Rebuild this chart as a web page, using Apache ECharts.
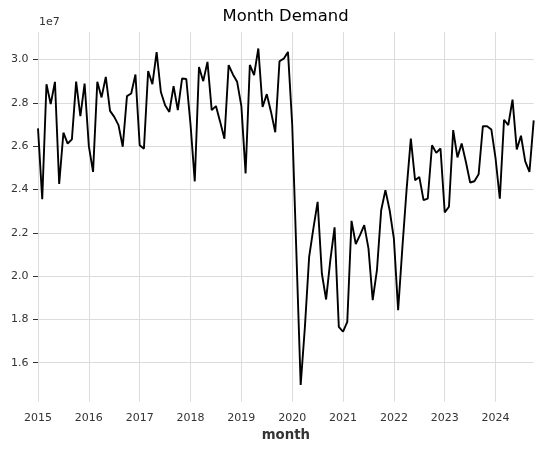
<!DOCTYPE html>
<html>
<head>
<meta charset="utf-8">
<script src="https://cdn.jsdelivr.net/npm/echarts@6/dist/echarts.min.js"></script>
<style>
html,body{margin:0;padding:0;background:#fff;}
#chart{width:544px;height:454px;}
</style>
</head>
<body>
<div id="chart"></div>
<script>
// Monthly demand, 2015-01 .. 2024-10
var startYear = 2015;
var demand = [
  26820000, 23550000, 28860000, 27940000, 28970000, 24250000, 26620000, 26120000, 26310000, 28980000, 27380000, 28890000,
  26000000, 24810000, 28970000, 28250000, 29200000, 27630000, 27350000, 26970000, 25970000, 28310000, 28430000, 29310000,
  26040000, 25880000, 29470000, 28860000, 30340000, 28500000, 27890000, 27580000, 28770000, 27660000, 29120000, 29100000,
  27000000, 24370000, 29650000, 29000000, 29890000, 27660000, 27850000, 27120000, 26340000, 29740000, 29310000, 28970000,
  27850000, 24740000, 29750000, 29280000, 30510000, 27810000, 28400000, 27580000, 26640000, 29920000, 30040000, 30350000,
  27000000, 21000000, 14970000, 17660000, 20890000, 22200000, 23430000, 20120000, 18920000, 20740000, 22250000, 17660000,
  17430000, 17890000, 22550000, 21480000, 21890000, 22350000, 21280000, 18890000, 20270000, 23040000, 23970000, 23040000,
  21730000, 18430000, 21300000, 24000000, 26350000, 24430000, 24580000, 23510000, 23580000, 26040000, 25690000, 25890000,
  22940000, 23200000, 26740000, 25480000, 26120000, 25270000, 24320000, 24380000, 24700000, 26920000, 26920000, 26770000,
  25430000, 23570000, 27220000, 26970000, 28150000, 25850000, 26480000, 25300000, 24810000, 27190000
];
var months = demand.map(function (_, i) {
  var y = startYear + Math.floor(i / 12);
  var m = (i % 12) + 1;
  return y + '-' + (m < 10 ? '0' + m : m);
});
var yTicks = [16000000, 18000000, 20000000, 22000000, 24000000, 26000000, 28000000, 30000000];
var titleText = 'Month Demand';
var xName = 'month';
var scaleText = '1e7';

var font = 'DejaVu Sans';
var textColor = '#333333';
var gridColor = '#dcdcdc';
var isJan = function (idx, val) { return /-01$/.test(val); };

var chart = echarts.init(document.getElementById('chart'), null, {renderer: 'canvas'});
chart.setOption({
  animation: false,
  backgroundColor: '#ffffff',
  title: {
    text: titleText,
    left: 222.5,
    top: 9,
    padding: 0,
    textStyle: {fontFamily: font, fontSize: 16.4, fontWeight: 'normal', color: '#000000'}
  },
  graphic: [{
    type: 'text',
    left: 39,
    top: 17,
    style: {text: scaleText, fontFamily: font, fontSize: 11, fill: textColor}
  }],
  grid: {left: 38, right: 10.3, top: 32, bottom: 52.3, containLabel: false, outerBoundsMode: 'none'},
  xAxis: {
    type: 'category',
    data: months,
    boundaryGap: false,
    name: xName,
    nameLocation: 'middle',
    nameGap: 27,
    nameTextStyle: {fontFamily: font, fontSize: 13.3, fontWeight: 'bold', color: textColor},
    axisLine: {show: false},
    axisTick: {show: false},
    axisLabel: {
      interval: isJan,
      formatter: function (v) { return v.slice(0, 4); },
      fontFamily: font, fontSize: 11, color: textColor, margin: 11
    },
    splitLine: {show: true, interval: isJan, lineStyle: {color: gridColor, width: 1}}
  },
  yAxis: {
    type: 'value',
    min: 14200000,
    max: 31270000,
    axisLine: {show: false},
    axisTick: {show: true, length: 5, customValues: yTicks, lineStyle: {color: textColor, width: 1}},
    axisLabel: {
      customValues: yTicks,
      formatter: function (v) { return (v / 1e7).toFixed(1); },
      fontFamily: font, fontSize: 11, color: textColor, margin: 9.5
    },
    splitLine: {show: true, lineStyle: {color: gridColor, width: 1}}
  },
  series: [{
    type: 'line',
    data: demand,
    symbol: 'none',
    lineStyle: {color: '#000000', width: 1.9},
    itemStyle: {color: '#000000'}
  }]
});
</script>
</body>
</html>
